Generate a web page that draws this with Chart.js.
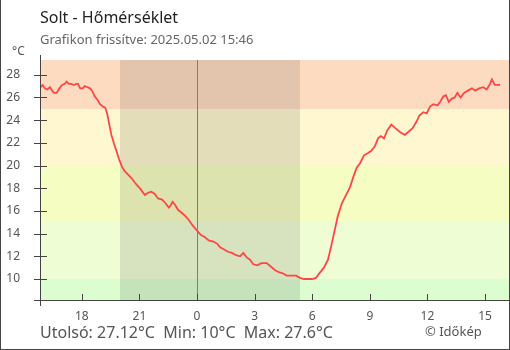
<!DOCTYPE html>
<html lang="hu">
<head>
<meta charset="utf-8">
<title>Solt - Hőmérséklet</title>
<script src="https://cdn.jsdelivr.net/npm/chart.js@4.4.1/dist/chart.umd.min.js"></script>
<style>
  html, body { margin: 0; padding: 0; background: #fff; }
  #wrap { position: relative; width: 510px; height: 350px; overflow: hidden; font-family: "Noto Sans", sans-serif; }
  #wrap canvas { position: absolute; left: 0; top: 0; }
  .txt { position: absolute; line-height: 1; white-space: pre; }
  #frame { position: absolute; left: 0; top: 0; width: 510px; height: 350px; box-sizing: border-box; border: 1px solid #444; border-top: none; pointer-events: none; }
</style>
</head>
<body>
<div id="wrap">
  <canvas id="tempChart" width="510" height="350"></canvas>
  <div class="txt" style="left:40px; top:9px; font-size:16px; color:#222;">Solt - Hőmérséklet</div>
  <div class="txt" style="left:40px; top:33px; font-size:13px; color:#666;">Grafikon frissítve: 2025.05.02 15:46</div>
  <div class="txt" style="left:12px; top:45px; font-size:12px; color:#555;">°C</div>
  <div class="txt" style="left:40px; top:324px; font-size:16px; color:#555;">Utolsó: 27.12°C &nbsp;Min: 10°C &nbsp;Max: 27.6°C</div>
  <div class="txt" style="left:425px; top:325px; font-size:13px; color:#555;">© Időkép</div>
  <div id="frame"></div>
</div>
<script>
// hours relative to midnight (negative = previous evening), temperature in °C
const hours = [
  -8.14, -8.04, -7.93, -7.80, -7.66, -7.55, -7.45, -7.31, -7.17, -7.03,
  -6.89, -6.79, -6.68, -6.55, -6.41, -6.30, -6.20, -6.09, -5.95, -5.85,
  -5.71, -5.57, -5.47, -5.33, -5.19, -5.05, -4.91, -4.78, -4.67, -4.57,
  -4.46, -4.32, -4.18, -4.05, -3.91, -3.77, -3.59, -3.42, -3.24, -3.14,
  -2.93, -2.72, -2.55, -2.38, -2.20, -2.03, -1.82, -1.65, -1.47, -1.37,
  -1.27, -1.13, -0.99, -0.85, -0.64, -0.43, -0.22, -0.02, 0.19, 0.40,
  0.61, 0.85, 1.06, 1.20, 1.41, 1.61, 1.82, 2.03, 2.24, 2.41,
  2.59, 2.76, 2.93, 3.14, 3.35, 3.63, 3.84, 4.05, 4.26, 4.46,
  4.67, 4.88, 5.16, 5.36, 5.57, 5.78, 5.99, 6.20, 6.37, 6.61,
  6.82, 6.99, 7.17, 7.34, 7.55, 7.76, 7.97, 8.14, 8.32, 8.49,
  8.70, 8.91, 9.08, 9.26, 9.43, 9.57, 9.74, 9.91, 10.12, 10.33,
  10.54, 10.61, 10.82, 11.03, 11.23, 11.44, 11.58, 11.79, 11.96, 12.14,
  12.31, 12.52, 12.66, 12.83, 12.97, 13.11, 13.28, 13.42, 13.56, 13.73,
  13.91, 14.11, 14.32, 14.49, 14.70, 14.91, 15.09, 15.26, 15.36, 15.51,
  15.64, 15.78
];
const temps = [
  26.9, 27.1, 26.8, 26.7, 26.9, 26.6, 26.4, 26.4, 26.8, 27.1,
  27.2, 27.4, 27.2, 27.2, 27.1, 27.2, 27.2, 26.8, 26.8, 27.0,
  26.9, 26.8, 26.6, 26.1, 25.8, 25.4, 25.2, 25.1, 24.5, 23.6,
  22.7, 21.9, 21.2, 20.5, 19.9, 19.5, 19.2, 18.9, 18.5, 18.3,
  17.9, 17.4, 17.6, 17.7, 17.5, 17.1, 17.0, 16.7, 16.3, 16.5,
  16.8, 16.5, 16.1, 15.9, 15.6, 15.2, 14.7, 14.3, 13.9, 13.7,
  13.4, 13.3, 13.1, 12.8, 12.6, 12.4, 12.3, 12.1, 12.0, 12.3,
  11.9, 11.7, 11.3, 11.2, 11.4, 11.4, 11.1, 10.8, 10.6, 10.5,
  10.3, 10.3, 10.3, 10.1, 10.0, 10.0, 10.0, 10.1, 10.5, 11.0,
  11.7, 12.9, 14.3, 15.6, 16.7, 17.4, 18.1, 19.0, 19.8, 20.2,
  20.9, 21.1, 21.3, 21.7, 22.4, 22.6, 22.4, 23.1, 23.6, 23.3,
  23.0, 22.9, 22.7, 23.0, 23.3, 23.9, 24.4, 24.7, 24.6, 25.2,
  25.4, 25.3, 25.6, 26.1, 26.2, 25.6, 25.9, 26.0, 26.4, 26.0,
  26.4, 26.6, 26.8, 26.6, 26.8, 26.9, 26.7, 27.2, 27.6, 27.1,
  27.1, 27.12
];

const yTickValues = [10, 12, 14, 16, 18, 20, 22, 24, 26, 28];
const xTickValues = [-6, -3, 0, 3, 6, 9, 12, 15];

// temperature bands behind the curve, from bottom to top
const bandLimits = [10, 15, 20, 25];
const bandColors = ['#dcfdd0', '#effdd4', '#f5fdc2', '#fef7d0', '#fddbc0'];

// dark period (sunset 19:59, sunrise 5:22)
const sunset = -4.02;
const sunrise = 5.37;

const axisColor = '#444';

const backdrop = {
    id: 'backdrop',
    beforeDatasetsDraw(chart) {
        const { ctx, chartArea: a, scales: { x, y } } = chart;
        const w = a.right - a.left;
        ctx.save();
        const edges = [y.min, ...bandLimits, y.max];
        for (let i = 0; i < bandColors.length; i++) {
            const top = Math.round(y.getPixelForValue(edges[i + 1]));
            const bottom = Math.round(y.getPixelForValue(edges[i]));
            ctx.fillStyle = bandColors[i];
            ctx.fillRect(a.left, top, w, bottom - top);
        }
        const x0 = Math.round(x.getPixelForValue(sunset));
        const x1 = Math.round(x.getPixelForValue(sunrise));
        ctx.fillStyle = 'rgba(0, 0, 0, 0.1)';
        ctx.fillRect(x0, a.top, x1 - x0, a.bottom - a.top);

        // midnight marker
        ctx.fillStyle = '#3d8fc6';
        ctx.fillRect(Math.round(x.getPixelForValue(0)), a.top, 1, a.bottom - a.top);
        ctx.restore();
    },
    afterDatasetsDraw(chart) {
        const { ctx, chartArea: a, scales: { x, y } } = chart;
        ctx.save();
        ctx.fillStyle = axisColor;
        ctx.fillRect(a.left, a.top - 5, 1, a.bottom - a.top + 11);
        ctx.fillRect(a.left - 6, a.bottom, a.right - a.left + 6, 1);
        yTickValues.forEach(v => {
            ctx.fillRect(a.left - 6, Math.round(y.getPixelForValue(v)), 13, 1);
        });
        xTickValues.forEach(v => {
            ctx.fillRect(Math.round(x.getPixelForValue(v)), a.bottom - 6, 1, 6);
        });
        ctx.restore();
    }
};

window.onload = function () {
    const ctx = document.getElementById('tempChart').getContext('2d');
    new Chart(ctx, {
        type: 'line',
        data: {
            datasets: [{
                data: hours.map((h, i) => ({ x: h, y: temps[i] })),
                borderColor: '#ff4646',
                borderWidth: 1.8,
                pointRadius: 0,
                tension: 0,
                fill: false
            }]
        },
        options: {
            responsive: false,
            animation: false,
            devicePixelRatio: 1,
            layout: { padding: { top: 60, right: 1, left: 0, bottom: 0 } },
            plugins: { legend: { display: false }, tooltip: { enabled: false } },
            scales: {
                x: {
                    type: 'linear',
                    min: -8.18,
                    max: 16.25,
                    border: { display: false },
                    grid: { display: false, drawTicks: false },
                    afterFit: s => { s.height = 50; },
                    afterBuildTicks: s => { s.ticks = xTickValues.map(v => ({ value: v })); },
                    ticks: {
                        autoSkip: false,
                        maxRotation: 0,
                        padding: 9,
                        color: '#555',
                        font: { family: 'Noto Sans', size: 12 },
                        callback: v => ((v % 24) + 24) % 24
                    }
                },
                y: {
                    min: 8.15,
                    max: 29.3,
                    border: { display: false },
                    grid: { display: false, drawTicks: false },
                    afterFit: s => { s.width = 40; },
                    afterBuildTicks: s => { s.ticks = yTickValues.map(v => ({ value: v })); },
                    ticks: {
                        padding: 20,
                        color: '#555',
                        font: { family: 'Noto Sans', size: 12 }
                    }
                }
            }
        },
        plugins: [backdrop]
    });
};
</script>
</body>
</html>
